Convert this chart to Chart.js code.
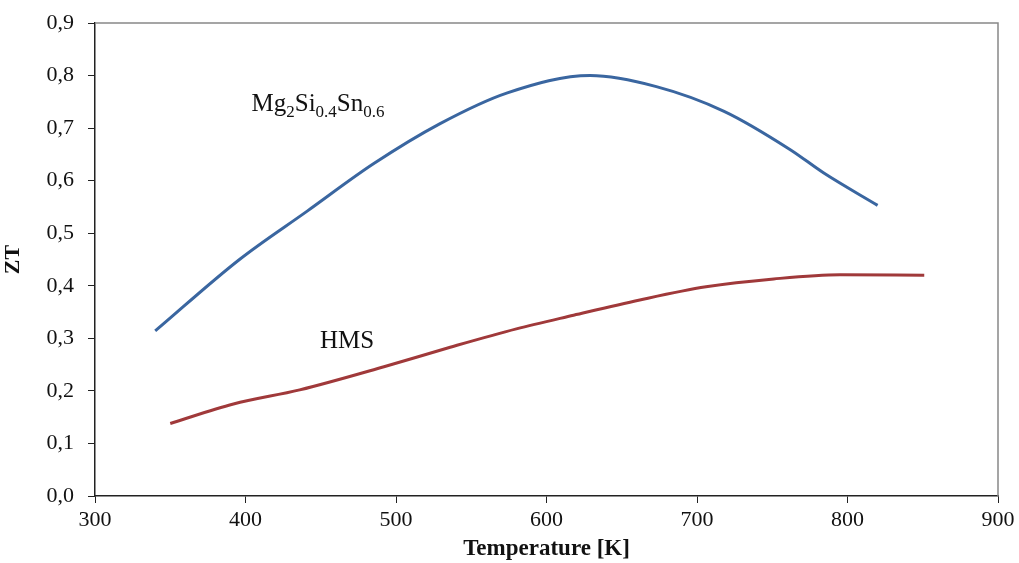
<!DOCTYPE html>
<html>
<head>
<meta charset="utf-8">
<script src="https://cdn.jsdelivr.net/npm/chart.js@4.4.0/dist/chart.umd.min.js"></script>
<style>
  html, body { margin: 0; padding: 0; background: #fff; }
  #wrap { width: 1019px; height: 563px; }
</style>
</head>
<body>
<div id="wrap"><canvas id="ztChart" width="1019" height="563"></canvas></div>
<script>
// values
const mgTemp = [340, 396, 441, 485, 529, 574, 629, 673, 718, 762, 784, 820]
const mgZT = [0.314, 0.450, 0.542, 0.632, 0.708, 0.767, 0.800, 0.779, 0.732, 0.659, 0.615, 0.553]
const hmsTemp = [350, 392, 436, 492, 536, 580, 618, 662, 706, 751, 795, 851]
const hmsZT = [0.138, 0.175, 0.202, 0.246, 0.283, 0.318, 0.344, 0.373, 0.398, 0.413, 0.421, 0.420]
const xTicks = [300, 400, 500, 600, 700, 800, 900]
const yTicks = [0, 0.1, 0.2, 0.3, 0.4, 0.5, 0.6, 0.7, 0.8, 0.9]

const serif = '"Liberation Serif", "Times New Roman", serif'

function toPoints(xs, ys) {
    return xs.map((x, i) => ({ x: x, y: ys[i] }))
}

// frame on top/right + the in-chart series labels
const framePlugin = {
    id: 'frame',
    afterDraw(chart) {
        const { ctx, chartArea: a, scales } = chart
        ctx.save()
        ctx.strokeStyle = '#888'
        ctx.lineWidth = 1.5
        ctx.beginPath()
        ctx.moveTo(a.left, a.top)
        ctx.lineTo(a.right, a.top)
        ctx.lineTo(a.right, a.bottom)
        ctx.stroke()

        ctx.fillStyle = '#111'
        ctx.textBaseline = 'alphabetic'
        // Mg2Si0.4Sn0.6
        let x = scales.x.getPixelForValue(404)
        const y = scales.y.getPixelForValue(0.732)
        const parts = [['Mg', 0], ['2', 1], ['Si', 0], ['0.4', 1], ['Sn', 0], ['0.6', 1]]
        parts.forEach(p => {
            ctx.font = p[1] ? '17px ' + serif : '25px ' + serif
            ctx.fillText(p[0], x, p[1] ? y + 6 : y)
            x += ctx.measureText(p[0]).width
        })
        ctx.font = '25px ' + serif
        ctx.fillText('HMS', scales.x.getPixelForValue(449.5), scales.y.getPixelForValue(0.2815))
        ctx.restore()
    }
}

new Chart(document.getElementById('ztChart').getContext('2d'), {
    type: 'line',
    data: {
        datasets: [{
            label: 'Mg2Si0.4Sn0.6',
            data: toPoints(mgTemp, mgZT),
            borderColor: '#3a66a0',
            borderWidth: 3,
            pointRadius: 0,
            cubicInterpolationMode: 'monotone'
        }, {
            label: 'HMS',
            data: toPoints(hmsTemp, hmsZT),
            borderColor: '#a0393a',
            borderWidth: 3,
            pointRadius: 0,
            cubicInterpolationMode: 'monotone'
        }]
    },
    plugins: [framePlugin],
    options: {
        responsive: false,
        animation: false,
        events: [],
        layout: { padding: { top: 23, right: 21, left: 0, bottom: 0 } },
        plugins: { legend: { display: false }, tooltip: { enabled: false } },
        scales: {
            x: {
                type: 'linear',
                min: 300,
                max: 900,
                afterBuildTicks: s => { s.ticks = xTicks.map(v => ({ value: v })) },
                afterFit: s => { s.height = 67 },
                grid: { drawOnChartArea: false, drawTicks: true, tickLength: 7, color: '#222', lineWidth: 1 },
                border: { display: true, color: '#222', width: 1.5 },
                ticks: { color: '#111', font: { family: serif, size: 22 }, padding: 4 },
                title: { display: true, text: 'Temperature [K]', color: '#111', font: { family: serif, size: 23, weight: 'bold' }, padding: { top: 0, bottom: 0 } }
            },
            y: {
                min: 0,
                max: 0.9,
                afterBuildTicks: s => { s.ticks = yTicks.map(v => ({ value: v })) },
                afterFit: s => { s.width = 95; s.paddingTop = 0; s.paddingBottom = 0 },
                grid: { drawOnChartArea: false, drawTicks: true, tickLength: 7, color: '#222', lineWidth: 1 },
                border: { display: true, color: '#222', width: 1.5 },
                ticks: {
                    color: '#111',
                    font: { family: serif, size: 22 },
                    padding: 14,
                    callback: v => v.toFixed(1).replace('.', ',')
                },
                title: { display: true, text: 'ZT', color: '#111', font: { family: serif, size: 22, weight: 'bold' }, padding: { top: 0, bottom: 2 } }
            }
        }
    }
})
</script>
</body>
</html>
